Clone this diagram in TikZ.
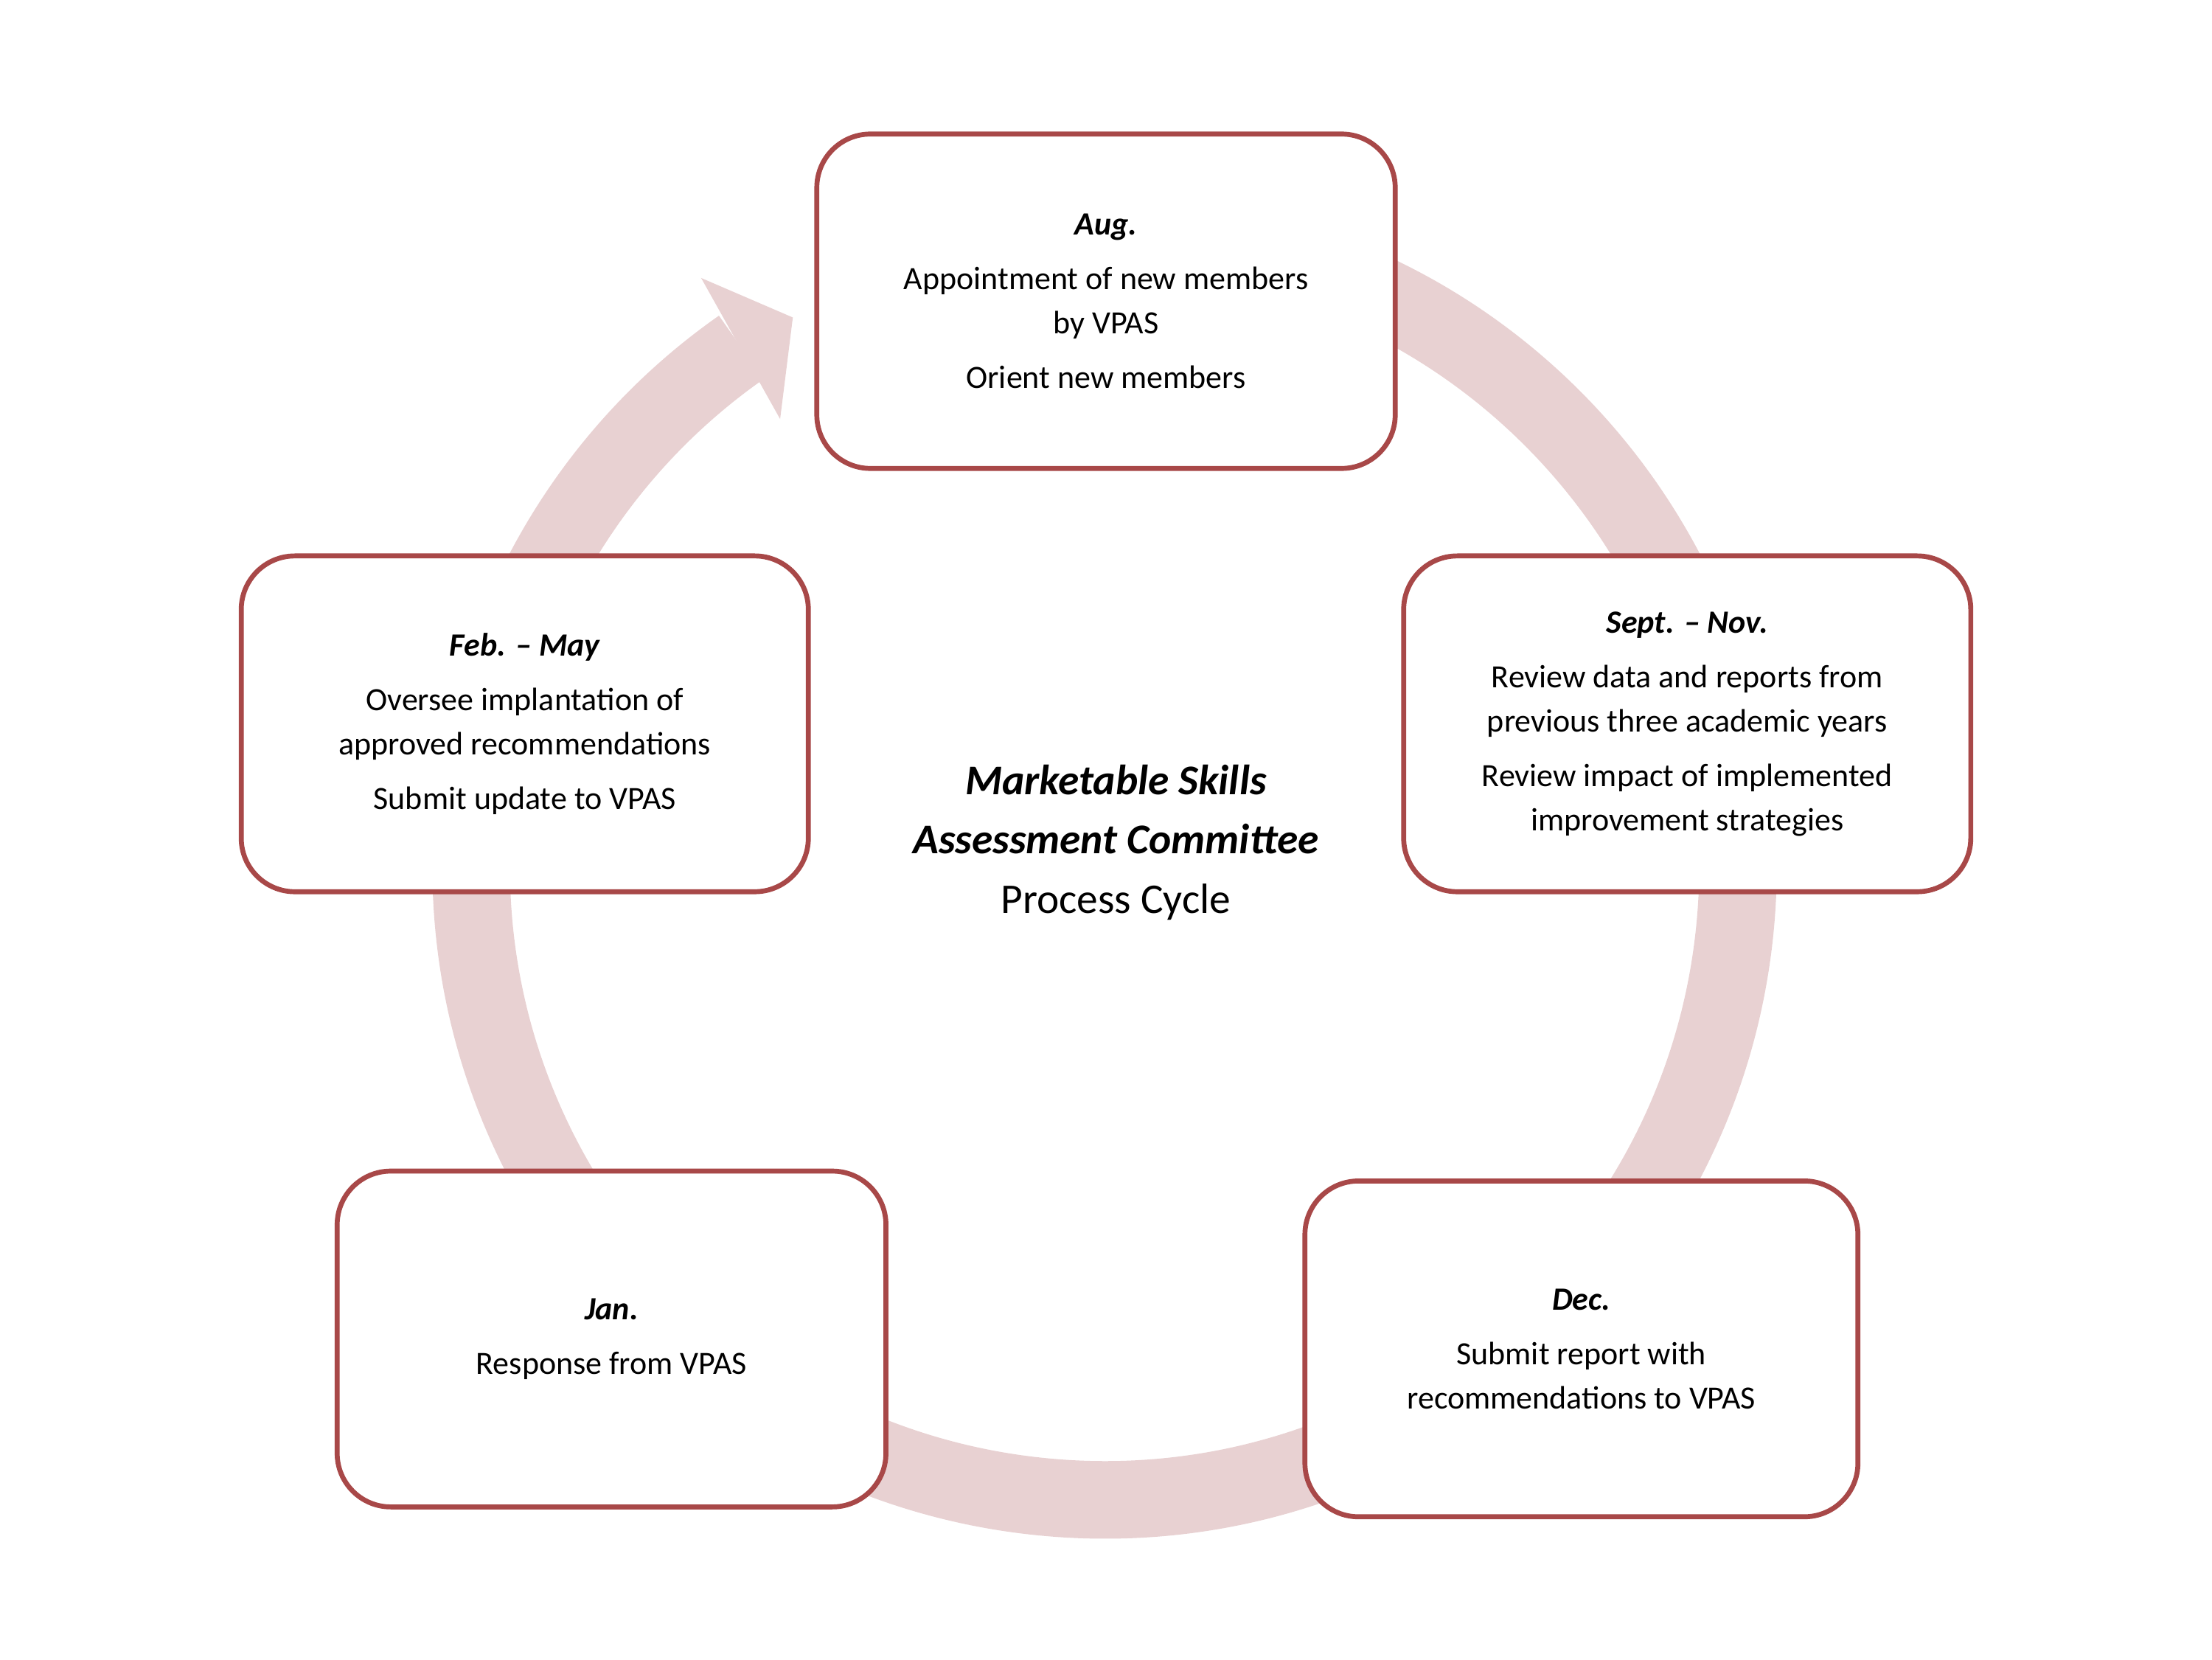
\documentclass[tikz,border=0pt]{standalone}
\usepackage{fontspec}
\setmainfont{Carlito}
\usetikzlibrary{calc}
\begin{document}
\begin{tikzpicture}[x=1pt,y=1pt,
  box/.style={draw=boxred,line width=3.5pt,rounded corners=38pt,fill=white,align=center,
    font=\fontsize{23}{31}\selectfont,inner sep=0pt}]
\definecolor{boxred}{RGB}{168,72,72}
\definecolor{ring}{RGB}{232,209,210}
\useasboundingbox (0,0) rectangle (1568,-1176);
\coordinate (c) at (783,-614);
% ring
\draw[ring,line width=55pt] ($(c)+(85:449)$) arc[start angle=85,end angle=-235,radius=449];
\fill[ring] (497,-197) -- (562,-225) -- (553,-297) -- cycle;
% boxes
\node[box,minimum width=410pt,minimum height=237pt] (aug) at (784,-213.5)
 {{\bfseries\itshape Aug.}\\[8pt]Appointment of new members\\by VPAS\\[8pt]Orient new members};
\node[box,minimum width=402pt,minimum height=238pt] (sep) at (1196,-513)
 {{\bfseries\itshape Sept. – Nov.}\\[8pt]Review data and reports from\\previous three academic years\\[8pt]Review impact of implemented\\improvement strategies};
\node[box,minimum width=392pt,minimum height=238pt] (dec) at (1121,-956)
 {{\bfseries\itshape Dec.}\\[8pt]Submit report with\\recommendations to VPAS};
\node[box,minimum width=389pt,minimum height=238pt] (jan) at (433.5,-949)
 {{\bfseries\itshape Jan.}\\[8pt]Response from VPAS};
\node[box,minimum width=402pt,minimum height=238pt] (feb) at (372,-513)
 {{\bfseries\itshape Feb. – May}\\[8pt]Oversee implantation of\\approved recommendations\\[8pt]Submit update to VPAS};
\node[align=center,font=\fontsize{30}{42}\selectfont] (ctr) at (791,-597)
 {{\bfseries\itshape Marketable Skills}\\{\bfseries\itshape Assessment Committee}\\Process Cycle};
\end{tikzpicture}
\end{document}
